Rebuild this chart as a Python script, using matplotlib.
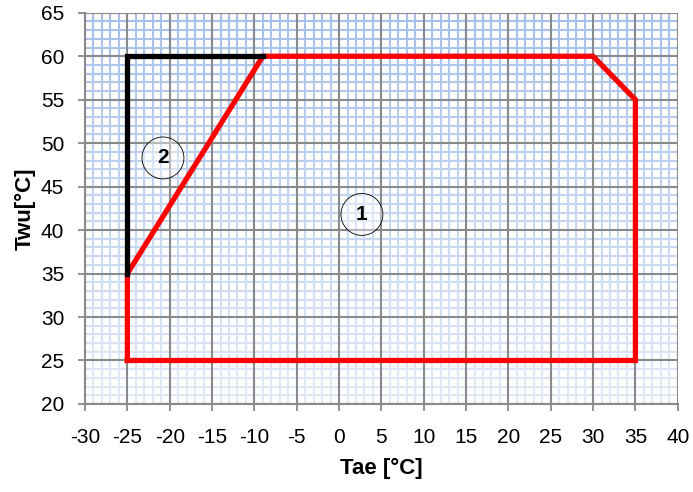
import numpy as np
import matplotlib.pyplot as plt
from matplotlib.ticker import MultipleLocator
from matplotlib.collections import LineCollection
from matplotlib.colors import to_rgb

plt.rcParams["font.family"] = ["Liberation Sans", "DejaVu Sans"]
plt.rcParams["axes.unicode_minus"] = False

# obszar pracy 1 (czerwony) i 2 (czarny)
strefa1_x = [-25, -25, -9, 30, 35, 35, -25]
strefa1_y = [25, 35, 60, 60, 55, 25, 25]
strefa2_x = [-25, -25, -9]
strefa2_y = [35, 60, 60]

etykiety = ["1", "2"]
etykiety_x = [2.7, -20.8]
etykiety_y = [41.8, 48.3]

X_MIN, X_MAX = -30, 40
Y_MIN, Y_MAX = 20, 65

fig = plt.figure(figsize=(6.93, 4.92), dpi=100)
ax = fig.add_axes([0.1227, 0.179, 0.8553, 0.795])

ax.set_xlim(X_MIN, X_MAX)
ax.set_ylim(Y_MIN, Y_MAX)
ax.xaxis.set_major_locator(MultipleLocator(5))
ax.yaxis.set_major_locator(MultipleLocator(5))


# siatka pomocnicza z gradientem (ciemniejsza u gory)
def kolor_siatki(y):
    gora = np.array(to_rgb("#a6c0ea"))
    dol = np.array(to_rgb("#e2eaf7"))
    t = (y - Y_MIN) / (Y_MAX - Y_MIN)
    return tuple(dol + (gora - dol) * t)


segmenty, kolory = [], []
for y in np.arange(Y_MIN + 1, Y_MAX + 1):
    segmenty.append([(X_MIN, y), (X_MAX, y)])
    kolory.append(kolor_siatki(y))
krok = 0.25
for x in np.arange(X_MIN + 1, X_MAX + 1):
    for y0 in np.arange(Y_MIN, Y_MAX, krok):
        segmenty.append([(x, y0), (x, y0 + krok)])
        kolory.append(kolor_siatki(y0 + krok / 2))
ax.add_collection(LineCollection(segmenty, colors=kolory, linewidths=1.5,
                                 zorder=0.2, capstyle="butt"))

ax.grid(which="major", color="#8a8a8a", linewidth=1.5)
ax.set_axisbelow(True)
ax.tick_params(which="major", direction="out", length=5, color="#8a8a8a",
               width=1.3, labelsize=15)
ax.tick_params(axis="x", pad=12)
ax.tick_params(axis="y", pad=10)

for s in ["top", "right"]:
    ax.spines[s].set_visible(False)
for s in ["left", "bottom"]:
    ax.spines[s].set_color("#8a8a8a")
    ax.spines[s].set_linewidth(1.5)

ax.plot(strefa1_x, strefa1_y, color="#ff0000", linewidth=3.8,
        solid_joinstyle="miter", zorder=3)
ax.plot(strefa2_x, strefa2_y, color="black", linewidth=3.8,
        solid_joinstyle="miter", zorder=3)

for t, x, y in zip(etykiety, etykiety_x, etykiety_y):
    ax.text(x, y, t, ha="center", va="center", fontsize=15, fontweight="bold",
            zorder=4,
            bbox=dict(boxstyle="circle,pad=0.55", facecolor=(1, 1, 1, 0.4),
                      edgecolor="black", linewidth=0.6))

ax.set_xlabel("Tae [°C]", fontsize=16, fontweight="bold", labelpad=8)
ax.set_ylabel("Twu[°C]", fontsize=16, fontweight="bold", labelpad=4)

plt.savefig("out.png", dpi=100)
